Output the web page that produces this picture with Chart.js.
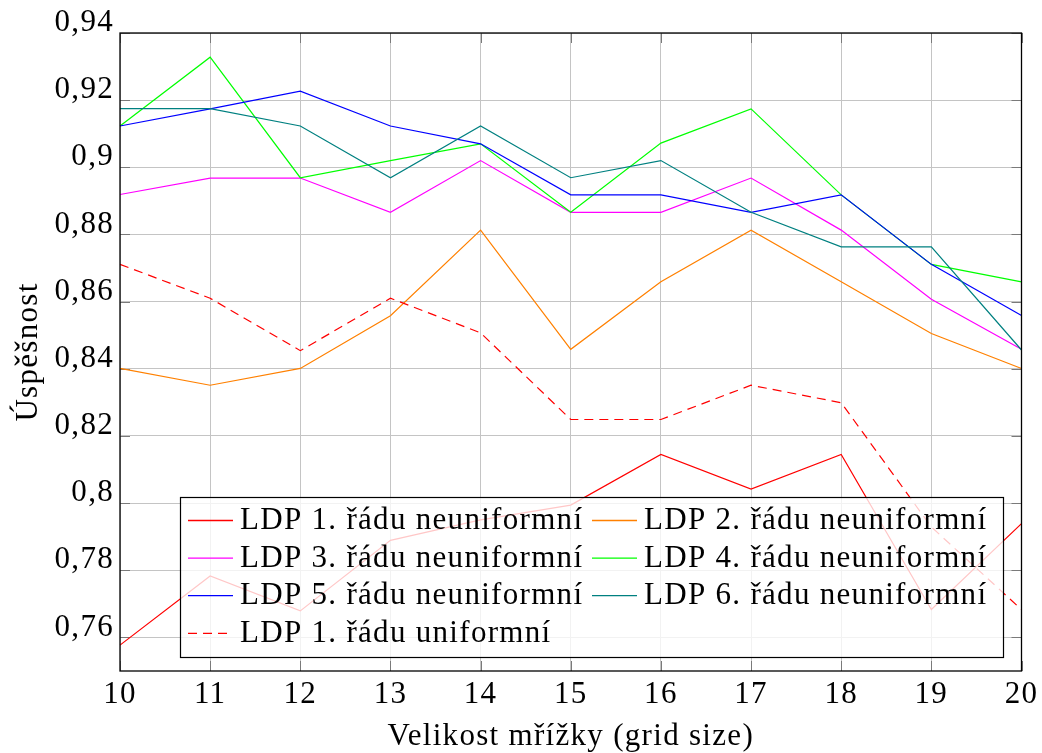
<!DOCTYPE html>
<html>
<head>
<meta charset="utf-8">
<script src="https://cdn.jsdelivr.net/npm/chart.js@4.4.1/dist/chart.umd.min.js"></script>
<style>
  html, body { margin: 0; padding: 0; background: #fff; }
  #wrap { width: 1042px; height: 753px; }
</style>
</head>
<body>
<div id="wrap"><canvas id="c" width="1042" height="753"></canvas></div>
<script>
// ---- data ----
const categories = ['10','11','12','13','14','15','16','17','18','19','20'];
const ldp1Neuni = [0.7577, 0.7783, 0.7679, 0.7889, 0.7950, 0.7994, 0.8145, 0.8042, 0.8145, 0.7683, 0.7939];
const ldp2Neuni = [0.8401, 0.8351, 0.8401, 0.8558, 0.8813, 0.8458, 0.8659, 0.8813, 0.8659, 0.8505, 0.8401];
const ldp3Neuni = [0.8919, 0.8968, 0.8968, 0.8866, 0.9020, 0.8866, 0.8866, 0.8968, 0.8813, 0.8607, 0.8458];
const ldp4Neuni = [0.9123, 0.9328, 0.8969, 0.9020, 0.9070, 0.8866, 0.9072, 0.9174, 0.8918, 0.8711, 0.8659];
const ldp5Neuni = [0.9123, 0.9174, 0.9227, 0.9123, 0.9070, 0.8918, 0.8918, 0.8866, 0.8918, 0.8711, 0.8559];
const ldp6Neuni = [0.9175, 0.9175, 0.9123, 0.8969, 0.9123, 0.8969, 0.9020, 0.8866, 0.8763, 0.8763, 0.8456];
const ldp1Uni   = [0.8711, 0.8610, 0.8454, 0.8610, 0.8507, 0.8249, 0.8249, 0.8351, 0.8299, 0.7929, 0.7683];
const seriesLabels = [
  'LDP 1. řádu neuniformní', 'LDP 2. řádu neuniformní',
  'LDP 3. řádu neuniformní', 'LDP 4. řádu neuniformní',
  'LDP 5. řádu neuniformní', 'LDP 6. řádu neuniformní',
  'LDP 1. řádu uniformní'
];
const yTickValues = [0.76, 0.78, 0.80, 0.82, 0.84, 0.86, 0.88, 0.90, 0.92, 0.94];
const yTickLabels = ['0,76', '0,78', '0,8', '0,82', '0,84', '0,86', '0,88', '0,9', '0,92', '0,94'];
const xTitle = 'Velikost mřížky (grid size)';
const yTitle = 'Úspěšnost';

// ---- styles ----
const colors = ['#ff0000', '#ff8000', '#ff00ff', '#00ff00', '#0000ff', '#008080', '#ff0000'];
const dashes = [[], [], [], [], [], [], [9, 6]];
const allSeries = [ldp1Neuni, ldp2Neuni, ldp3Neuni, ldp4Neuni, ldp5Neuni, ldp6Neuni, ldp1Uni];
const FONT = "'Liberation Serif', 'DejaVu Serif', serif";
const FSIZE = 31;
const LSP = '1.3px';

Chart.defaults.font.family = FONT;
Chart.defaults.font.size = FSIZE;
Chart.defaults.color = '#000';

const datasets = allSeries.map((d, i) => ({
  label: seriesLabels[i],
  data: d,
  borderColor: colors[i],
  backgroundColor: colors[i],
  borderWidth: 1.2,
  borderDash: dashes[i],
  pointRadius: 0,
  tension: 0,
  fill: false,
  order: allSeries.length - i
}));

const spacingPlugin = {
  id: 'spacing',
  beforeInit(chart) { chart.ctx.letterSpacing = LSP; },
  beforeDraw(chart) { chart.ctx.letterSpacing = LSP; }
};

const framePlugin = {
  id: 'frame',
  beforeDatasetsDraw(chart) {
    const {ctx, chartArea: a, scales: {x, y}} = chart;
    ctx.save();
    ctx.strokeStyle = '#7a7a7a';
    ctx.lineWidth = 1;
    ctx.setLineDash([]);
    const tl = 10;
    ctx.beginPath();
    x.ticks.forEach((t, i) => {
      const px = Math.round(x.getPixelForTick(i)) + 0.5;
      ctx.moveTo(px, a.bottom); ctx.lineTo(px, a.bottom - tl);
      ctx.moveTo(px, a.top); ctx.lineTo(px, a.top + tl);
    });
    y.ticks.forEach((t) => {
      const py = Math.round(y.getPixelForValue(t.value)) + 0.5;
      ctx.moveTo(a.left, py); ctx.lineTo(a.left + tl, py);
      ctx.moveTo(a.right, py); ctx.lineTo(a.right - tl, py);
    });
    ctx.stroke();
    ctx.restore();
  },
  afterDatasetsDraw(chart) {
    const {ctx, chartArea: a} = chart;
    ctx.save();
    ctx.setLineDash([]);
    ctx.strokeStyle = '#000';
    ctx.lineWidth = 1.3;
    ctx.strokeRect(a.left, a.top, a.right - a.left, a.bottom - a.top);
    ctx.restore();
  }
};

const legendPlugin = {
  id: 'innerLegend',
  afterDraw(chart) {
    const {ctx} = chart;
    const n = chart.data.datasets.length;
    const box = {x: 180.5, y: 497.5, w: 823, h: 160};
    ctx.save();
    ctx.setLineDash([]);
    ctx.fillStyle = 'rgba(255,255,255,0.78)';
    ctx.fillRect(box.x, box.y, box.w, box.h);
    ctx.strokeStyle = '#000';
    ctx.lineWidth = 1.2;
    ctx.strokeRect(box.x, box.y, box.w, box.h);
    ctx.font = FSIZE + 'px ' + FONT;
    ctx.letterSpacing = LSP;
    ctx.textBaseline = 'middle';
    ctx.textAlign = 'left';
    const colX = [188, 592];
    const rowY0 = 520, rowH = 37.6;
    for (let i = 0; i < n; i++) {
      const col = i % 2, row = Math.floor(i / 2);
      const sx = colX[col], sy = rowY0 + row * rowH;
      ctx.save();
      ctx.strokeStyle = colors[i];
      ctx.lineWidth = 1.3;
      ctx.setLineDash(dashes[i]);
      ctx.beginPath();
      ctx.moveTo(sx, sy + 0.5); ctx.lineTo(sx + 45, sy + 0.5);
      ctx.stroke();
      ctx.restore();
      ctx.fillStyle = '#000';
      ctx.fillText(seriesLabels[i], sx + 52, sy + 1);
    }
    ctx.restore();
  }
};

new Chart(document.getElementById('c'), {
  type: 'line',
  data: { labels: categories, datasets },
  options: {
    responsive: false,
    animation: false,
    devicePixelRatio: 1,
    layout: { padding: { top: 33, right: 20, left: 0, bottom: 0 } },
    plugins: { legend: { display: false }, tooltip: { enabled: false } },
    scales: {
      x: {
        type: 'category',
        offset: false,
        grid: { color: '#c4c4c4', lineWidth: 1, drawTicks: false },
        border: { display: false },
        ticks: { padding: 5, maxRotation: 0, autoSkip: false },
        title: { display: true, text: xTitle, padding: { top: 0, bottom: -2 } },
        afterFit(scale) { scale.height = 82; }
      },
      y: {
        type: 'linear',
        min: 0.75,
        max: 0.94,
        grid: { color: '#c4c4c4', lineWidth: 1, drawTicks: false },
        border: { display: false },
        afterBuildTicks(scale) { scale.ticks = yTickValues.map(v => ({ value: v })); },
        ticks: {
          padding: 6,
          labelOffset: -10,
          callback(value) {
            const idx = yTickValues.findIndex(v => Math.abs(v - value) < 1e-9);
            return idx >= 0 ? yTickLabels[idx] : '';
          }
        },
        title: { display: true, text: yTitle, padding: { top: 10, bottom: 0 } },
        afterFit(scale) { scale.width = 120; }
      }
    }
  },
  plugins: [spacingPlugin, framePlugin, legendPlugin]
});
</script>
</body>
</html>
